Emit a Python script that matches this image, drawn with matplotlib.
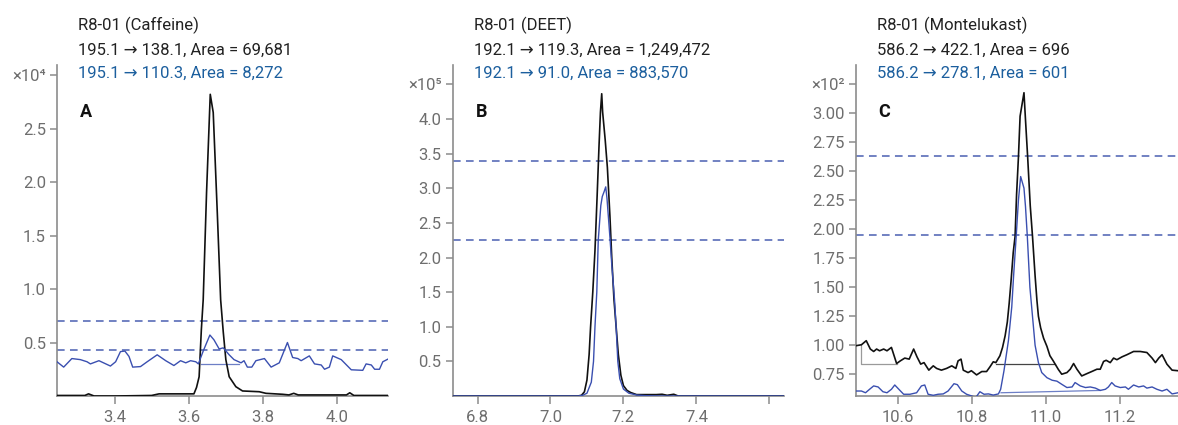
import matplotlib
matplotlib.use('Agg')
import matplotlib.pyplot as plt
from matplotlib.transforms import offset_copy

# ---------------------------------------------------------
# Data (time in min, response in
# units of the multiplier shown on top of each y axis)
# ---------------------------------------------------------
titles = ['R8-01 (Caffeine)', 'R8-01 (DEET)', 'R8-01 (Montelukast)']
quant_labels = ['195.1 \u2192 138.1, Area = 69,681',
                '192.1 \u2192 119.3, Area = 1,249,472',
                '586.2 \u2192 422.1, Area = 696']
qual_labels = ['195.1 \u2192 110.3, Area = 8,272',
               '192.1 \u2192 91.0, Area = 883,570',
               '586.2 \u2192 278.1, Area = 601']
panel_letters = ['A', 'B', 'C']
multipliers = ['\u00d710\u2074', '\u00d710\u2075', '\u00d710\u00b2']

# caffeine, x10^4
a_quant = [(3.245, 0.005), (3.32, 0.005), (3.33, 0.02), (3.345, 0.0), (3.40, 0.0),
           (3.50, 0.005), (3.52, 0.02), (3.60, 0.02), (3.614, 0.02), (3.621, 0.08),
           (3.628, 0.18), (3.634, 0.62), (3.639, 0.9), (3.648, 1.9), (3.658, 2.82),
           (3.666, 2.65), (3.677, 1.71), (3.686, 0.9), (3.693, 0.6), (3.70, 0.34),
           (3.709, 0.18), (3.727, 0.087), (3.745, 0.047), (3.79, 0.04), (3.808, 0.025),
           (3.853, 0.016), (3.87, 0.01), (3.883, 0.025), (3.895, 0.01), (4.00, 0.01),
           (4.025, 0.01), (4.034, 0.03), (4.045, 0.005), (4.137, 0.005)]
a_qual = [(3.245, 0.32), (3.263, 0.27), (3.285, 0.35), (3.308, 0.34), (3.326, 0.32),
          (3.335, 0.30), (3.358, 0.33), (3.389, 0.28), (3.403, 0.32), (3.416, 0.415),
          (3.428, 0.42), (3.439, 0.37), (3.449, 0.27), (3.470, 0.275), (3.488, 0.32),
          (3.515, 0.385), (3.538, 0.33), (3.560, 0.285), (3.578, 0.33), (3.592, 0.31),
          (3.605, 0.33), (3.619, 0.32), (3.626, 0.30), (3.639, 0.42), (3.657, 0.57),
          (3.668, 0.525), (3.682, 0.44), (3.693, 0.45), (3.709, 0.385), (3.722, 0.34),
          (3.741, 0.31), (3.749, 0.33), (3.758, 0.27), (3.770, 0.27), (3.781, 0.33),
          (3.804, 0.35), (3.822, 0.27), (3.844, 0.31), (3.866, 0.50), (3.880, 0.36),
          (3.894, 0.35), (3.903, 0.33), (3.925, 0.375), (3.939, 0.30), (3.957, 0.29),
          (3.966, 0.25), (3.979, 0.27), (3.988, 0.375), (4.011, 0.34), (4.038, 0.245),
          (4.069, 0.24), (4.078, 0.30), (4.092, 0.29), (4.101, 0.25), (4.114, 0.25),
          (4.123, 0.32), (4.137, 0.345)]
a_qual_base = [(3.632, 0.30), (3.736, 0.30)]
a_ratio_window = [0.70, 0.43]

# DEET, x10^5
b_quant = [(6.732, 0.0), (7.00, 0.0), (7.075, 0.0), (7.085, 0.01), (7.093, 0.06),
           (7.100, 0.23), (7.106, 0.6), (7.110, 1.0), (7.116, 1.5), (7.122, 2.1),
           (7.128, 2.9), (7.133, 3.6), (7.137, 4.1), (7.1405, 4.365), (7.143, 4.1),
           (7.150, 3.7), (7.156, 3.3), (7.163, 2.6), (7.168, 2.0), (7.174, 1.4),
           (7.180, 1.0), (7.186, 0.6), (7.193, 0.3), (7.200, 0.15), (7.210, 0.08),
           (7.220, 0.05), (7.236, 0.02), (7.26, 0.02), (7.29, 0.02), (7.306, 0.025),
           (7.32, 0.01), (7.338, 0.025), (7.35, 0.0), (7.641, 0.0)]
b_qual = [(6.732, 0.0), (7.076, 0.0), (7.088, 0.01), (7.100, 0.04), (7.112, 0.2),
          (7.118, 0.5), (7.122, 1.0), (7.127, 1.5), (7.131, 2.25), (7.138, 2.75),
          (7.142, 2.88), (7.147, 2.95), (7.1515, 3.02), (7.155, 2.85), (7.1636, 2.25),
          (7.168, 1.9), (7.1755, 1.4), (7.180, 1.0), (7.1846, 0.5), (7.190, 0.25),
          (7.200, 0.1), (7.215, 0.04), (7.236, 0.015), (7.26, 0.005), (7.30, 0.0),
          (7.641, 0.0)]
b_ratio_window = [3.39, 2.254]

# montelukast, x10^2
c_quant = [(10.485, 0.995), (10.501, 1.004), (10.514, 1.039), (10.525, 0.967),
           (10.534, 0.946), (10.542, 0.967), (10.550, 0.952), (10.561, 0.967),
           (10.570, 0.952), (10.582, 0.981), (10.596, 0.842), (10.606, 0.865),
           (10.618, 0.889), (10.630, 0.880), (10.642, 0.967), (10.651, 0.900),
           (10.661, 0.837), (10.670, 0.850), (10.683, 0.785), (10.695, 0.822),
           (10.704, 0.800), (10.717, 0.785), (10.731, 0.800), (10.745, 0.822),
           (10.756, 0.800), (10.762, 0.865), (10.770, 0.880), (10.776, 0.785),
           (10.789, 0.764), (10.798, 0.780), (10.812, 0.744), (10.826, 0.773),
           (10.839, 0.773), (10.848, 0.813), (10.857, 0.857), (10.864, 0.850),
           (10.875, 0.909), (10.882, 0.98), (10.889, 1.08), (10.895, 1.2),
           (10.900, 1.36), (10.905, 1.55), (10.911, 1.8), (10.916, 1.94),
           (10.920, 2.3), (10.925, 2.62), (10.9295, 2.975), (10.940, 3.178),
           (10.944, 2.95), (10.950, 2.62), (10.957, 2.2), (10.963, 1.94),
           (10.970, 1.6), (10.975, 1.386), (10.979, 1.25), (10.985, 1.15),
           (10.993, 1.06), (11.002, 0.99), (11.010, 0.91), (11.019, 0.865),
           (11.033, 0.79), (11.042, 0.75), (11.056, 0.764), (11.065, 0.793),
           (11.074, 0.842), (11.083, 0.793), (11.096, 0.735), (11.110, 0.755),
           (11.123, 0.773), (11.137, 0.793), (11.146, 0.793), (11.155, 0.86),
           (11.162, 0.87), (11.173, 0.85), (11.182, 0.889), (11.191, 0.875),
           (11.205, 0.90), (11.218, 0.918), (11.236, 0.946), (11.254, 0.946),
           (11.272, 0.937), (11.286, 0.889), (11.295, 0.85), (11.304, 0.889),
           (11.313, 0.918), (11.326, 0.837), (11.340, 0.785), (11.356, 0.78)]
c_qual = [(10.485, 0.605), (10.501, 0.605), (10.512, 0.59), (10.523, 0.62),
          (10.534, 0.649), (10.546, 0.64), (10.559, 0.599), (10.570, 0.59),
          (10.582, 0.62), (10.591, 0.657), (10.605, 0.61), (10.615, 0.577),
          (10.632, 0.577), (10.650, 0.59), (10.663, 0.649), (10.672, 0.657),
          (10.681, 0.577), (10.695, 0.568), (10.708, 0.577), (10.722, 0.58),
          (10.735, 0.605), (10.751, 0.668), (10.760, 0.66), (10.772, 0.605),
          (10.785, 0.577), (10.799, 0.562), (10.810, 0.55), (10.821, 0.599),
          (10.832, 0.577), (10.844, 0.58), (10.857, 0.57), (10.871, 0.58),
          (10.877, 0.62), (10.886, 0.78), (10.898, 1.04), (10.907, 1.33),
          (10.912, 1.6), (10.919, 1.94), (10.925, 2.25), (10.931, 2.455),
          (10.940, 2.355), (10.944, 2.2), (10.949, 1.94), (10.956, 1.5),
          (10.963, 1.25), (10.970, 1.0), (10.979, 0.85), (10.988, 0.764),
          (11.002, 0.72), (11.016, 0.698), (11.029, 0.69), (11.042, 0.663),
          (11.056, 0.635), (11.070, 0.64), (11.078, 0.678), (11.092, 0.649),
          (11.106, 0.635), (11.119, 0.64), (11.133, 0.63), (11.146, 0.61),
          (11.160, 0.62), (11.168, 0.64), (11.177, 0.678), (11.186, 0.649),
          (11.200, 0.635), (11.214, 0.64), (11.222, 0.62), (11.236, 0.657),
          (11.250, 0.64), (11.263, 0.649), (11.272, 0.63), (11.286, 0.64),
          (11.299, 0.62), (11.313, 0.605), (11.326, 0.62), (11.340, 0.58),
          (11.356, 0.59)]
c_prev_base = [(10.50, 1.0), (10.50, 0.837), (10.597, 0.837)]
c_quant_base = [(10.864, 0.837), (11.024, 0.837)]
c_qual_base = [(10.878, 0.59), (11.146, 0.61)]
c_ratio_window = [2.629, 1.95]

x_limits = [(3.245, 4.137), (6.732, 7.641), (10.4855, 11.356)]
y_limits = [(0.0, 3.094), (0.0, 4.78), (0.562, 3.417)]
x_ticks = [[3.4, 3.6, 3.8, 4.0], [6.8, 7.0, 7.2, 7.4, 7.6], [10.6, 10.8, 11.0, 11.2]]
x_ticklabels = [['3.4', '3.6', '3.8', '4.0'], ['6.8', '7.0', '7.2', '7.4', ''],
                ['10.6', '10.8', '11.0', '11.2']]
y_ticks = [[0.5, 1.0, 1.5, 2.0, 2.5, 3.0],
           [0.5, 1.0, 1.5, 2.0, 2.5, 3.0, 3.5, 4.0, 4.5],
           [0.75, 1.0, 1.25, 1.5, 1.75, 2.0, 2.25, 2.5, 2.75, 3.0, 3.25]]
y_fmt = ['{:.1f}', '{:.1f}', '{:.2f}']

# ---------------------------------------------------------
# Styling
# ---------------------------------------------------------
plt.rcParams['font.family'] = ['Roboto', 'DejaVu Sans']
BLACK = '#111111'
BLUE = '#3a4fb0'
TEXT_BLUE = '#1c5f9e'
DASH_BLUE = '#4a5fb2'
AXIS_GRAY = '#8c8c8c'
LABEL_GRAY = '#6e6e6e'

W, H = 1178, 425
fig = plt.figure(figsize=(W / 100, H / 100), dpi=100)

# axes edges in pixels (left, right); all share top=65, bottom=396
axes_px = [(57, 388), (452.7, 784.3), (855.7, 1178)]
quant_data = [a_quant, b_quant, c_quant]
qual_data = [a_qual, b_qual, c_qual]
windows = [a_ratio_window, b_ratio_window, c_ratio_window]


def xy(points):
    return [p[0] for p in points], [p[1] for p in points]


for i, (left, right) in enumerate(axes_px):
    ax = fig.add_axes([left / W, (H - 396) / H, (right - left) / W, (396 - 65) / H])

    for lvl in windows[i]:
        ax.axhline(lvl, color=DASH_BLUE, lw=1.1, ls=(0, (5, 3.5)), zorder=1)

    if i == 0:
        ax.plot(*xy(a_qual_base), color='#6d7fc6', lw=0.9, zorder=2)
    if i == 2:
        ax.plot(*xy(c_prev_base), color='#9a9a9a', lw=0.9, zorder=2)
        ax.plot(*xy(c_quant_base), color='#444444', lw=0.9, zorder=2)
        ax.plot(*xy(c_qual_base), color='#6d7fc6', lw=0.9, zorder=2)

    ax.plot(*xy(quant_data[i]), color=BLACK, lw=1.2, zorder=3)
    ax.plot(*xy(qual_data[i]), color=BLUE, lw=1.0, zorder=4)

    ax.set_xlim(*x_limits[i])
    ax.set_ylim(*y_limits[i])

    for s in ['top', 'right']:
        ax.spines[s].set_visible(False)
    for s in ['left', 'bottom']:
        ax.spines[s].set_color(AXIS_GRAY)
        ax.spines[s].set_linewidth(1.2)

    ax.set_xticks(x_ticks[i])
    ax.set_xticklabels(x_ticklabels[i])
    ylabels = [y_fmt[i].format(v) for v in y_ticks[i][:-1]] + [multipliers[i]]
    ax.set_yticks(y_ticks[i])
    ax.set_yticklabels(ylabels)
    ax.get_yticklabels()[-1].set_fontsize(10.5)

    ax.tick_params(axis='both', colors=AXIS_GRAY, labelcolor=LABEL_GRAY,
                   labelsize=12, width=1.1, direction='out')
    ax.tick_params(axis='y', length=5, pad=3)
    ax.tick_params(axis='x', length=6, pad=4)

    # header lines above each panel
    for text, dy, col in [(titles[i], 35, '#222222'),
                          (quant_labels[i], 10, '#222222'),
                          (qual_labels[i], -13.3, TEXT_BLUE)]:
        tr = offset_copy(ax.transAxes, fig=fig, x=21, y=dy, units='dots')
        ax.text(0, 1, text, transform=tr, fontsize=12, color=col,
                ha='left', va='baseline', clip_on=False)

    tr = offset_copy(ax.transAxes, fig=fig, x=23, y=-51.7, units='dots')
    ax.text(0, 1, panel_letters[i], transform=tr, fontsize=13, fontweight='bold',
            color='#111111', ha='left', va='baseline')

fig.savefig('out.png', dpi=100)
